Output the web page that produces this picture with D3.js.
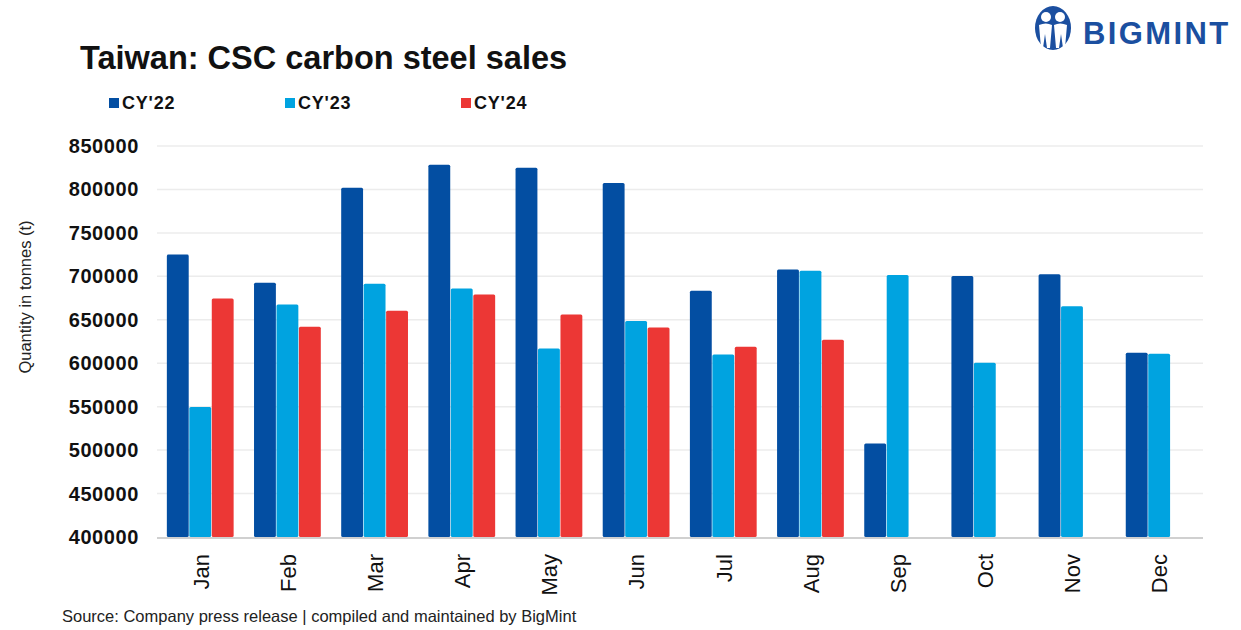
<!DOCTYPE html>
<html>
<head>
<meta charset="utf-8">
<script src="https://cdn.jsdelivr.net/npm/d3@7"></script>
<style>
  body { margin: 0; background: #fff; }
  svg { display: block; font-family: "Liberation Sans", Arial, sans-serif; }
</style>
</head>
<body>
<svg id="chart" width="1241" height="630"></svg>
<script>
// data
var months = ["Jan", "Feb", "Mar", "Apr", "May", "Jun", "Jul", "Aug", "Sep", "Oct", "Nov", "Dec"];
var seriesNames = ["CY'22", "CY'23", "CY'24"];
var cy22 = [725000, 692500, 802000, 828500, 825000, 807500, 683500, 708000, 507500, 700500, 702500, 612000];
var cy23 = [549500, 667500, 691500, 686000, 617000, 648500, 610000, 706500, 701500, 600500, 665500, 611000];
var cy24 = [674500, 642000, 660500, 679000, 656000, 641000, 619000, 627000, null, null, null, null];
var yTicks = [400000, 450000, 500000, 550000, 600000, 650000, 700000, 750000, 800000, 850000];
var colors = ["#034ea2", "#00a3e0", "#ec3735"];

var svg = d3.select("#chart");
var plotLeft = 157, plotRight = 1203, plotTop = 146, plotBottom = 537;

var x0 = d3.scaleBand().domain(months).range([plotLeft, plotRight]).paddingInner(0.227).paddingOuter(0.113);
var x1 = d3.scaleBand().domain(seriesNames).range([0, x0.bandwidth()]);
var y = d3.scaleLinear().domain([400000, 850000]).range([plotBottom, plotTop]);

// gridlines
svg.append("g").selectAll("line").data(yTicks.slice(1)).enter().append("line")
  .attr("x1", plotLeft).attr("x2", plotRight)
  .attr("y1", function(d) { return y(d); }).attr("y2", function(d) { return y(d); })
  .attr("stroke", "#ececec").attr("stroke-width", 1.5);

// y tick labels
svg.append("g").selectAll("text").data(yTicks).enter().append("text")
  .attr("x", 139).attr("y", function(d) { return y(d) + 7; })
  .attr("text-anchor", "end")
  .attr("font-size", "20px").attr("font-weight", "bold")
  .attr("letter-spacing", "0.6px")
  .attr("fill", "#111")
  .text(function(d) { return d; });

// bars
var rows = months.map(function(m, i) {
  return { month: m, vals: [cy22[i], cy23[i], cy24[i]] };
});
var groups = svg.append("g").selectAll("g").data(rows).enter().append("g")
  .attr("transform", function(d) { return "translate(" + x0(d.month) + ",0)"; });
groups.selectAll("rect")
  .data(function(d) {
    return d.vals.map(function(v, k) { return { name: seriesNames[k], v: v, k: k }; })
      .filter(function(e) { return e.v != null; });
  })
  .enter().append("rect")
  .attr("x", function(d) { return x1(d.name); })
  .attr("width", x1.bandwidth() - 0.6)
  .attr("y", function(d) { return y(d.v); })
  .attr("height", function(d) { return plotBottom - y(d.v); })
  .attr("rx", 1.5)
  .attr("fill", function(d) { return colors[d.k]; });

// baseline
svg.append("line").attr("x1", plotLeft).attr("x2", plotRight).attr("y1", plotBottom + 1).attr("y2", plotBottom + 1)
  .attr("stroke", "#d0d0d0").attr("stroke-width", 2);

// month labels
svg.append("g").selectAll("text").data(months).enter().append("text")
  .attr("transform", function(d) {
    return "translate(" + (x0(d) + x0.bandwidth() / 2 + 8) + ",554) rotate(-90)";
  })
  .attr("text-anchor", "end")
  .attr("font-size", "22px")
  .attr("fill", "#111")
  .text(function(d) { return d; });

// y axis title
svg.append("text")
  .attr("transform", "translate(31,297) rotate(-90)")
  .attr("text-anchor", "middle")
  .attr("font-size", "16.5px")
  .attr("fill", "#222")
  .text("Quantity in tonnes (t)");

// title
svg.append("text")
  .attr("x", 80).attr("y", 69)
  .attr("font-size", "32.5px").attr("font-weight", "bold")
  .attr("fill", "#111")
  .text("Taiwan: CSC carbon steel sales");

// legend
var legendX = [109, 285, 461];
var leg = svg.append("g").selectAll("g").data(seriesNames).enter().append("g")
  .attr("transform", function(d, i) { return "translate(" + legendX[i] + ",98)"; });
leg.append("rect").attr("width", 10).attr("height", 10)
  .attr("fill", function(d, i) { return colors[i]; });
leg.append("text").attr("x", 13).attr("y", 10.5)
  .attr("font-size", "18px").attr("font-weight", "bold")
  .attr("letter-spacing", "0.8px")
  .attr("fill", "#111")
  .text(function(d) { return d; });

// source
svg.append("text")
  .attr("x", 62).attr("y", 622)
  .attr("font-size", "16.5px")
  .attr("fill", "#222")
  .text("Source: Company press release | compiled and maintained by BigMint");

// logo
var logo = svg.append("g").attr("transform", "translate(1053,28)");
logo.append("ellipse").attr("rx", 18).attr("ry", 22).attr("fill", "#1b4fa0");
logo.append("circle").attr("cx", -7).attr("cy", -11).attr("r", 5).attr("fill", "#fff");
logo.append("circle").attr("cx", 7).attr("cy", -11).attr("r", 5).attr("fill", "#fff");
logo.append("path")
  .attr("d", "M-14,-3 Q-7,-6 -1,-3 L-3,20 L-6,20 L-8,6 L-10,20 L-12,20 Z M14,-3 Q7,-6 1,-3 L3,20 L6,20 L8,6 L10,20 L12,20 Z")
  .attr("fill", "#fff");
svg.append("text")
  .attr("x", 1083).attr("y", 44)
  .attr("font-size", "31px").attr("font-weight", "bold")
  .attr("letter-spacing", "2.4px")
  .attr("fill", "#1b4fa0")
  .text("BIGMINT");
</script>
</body>
</html>
